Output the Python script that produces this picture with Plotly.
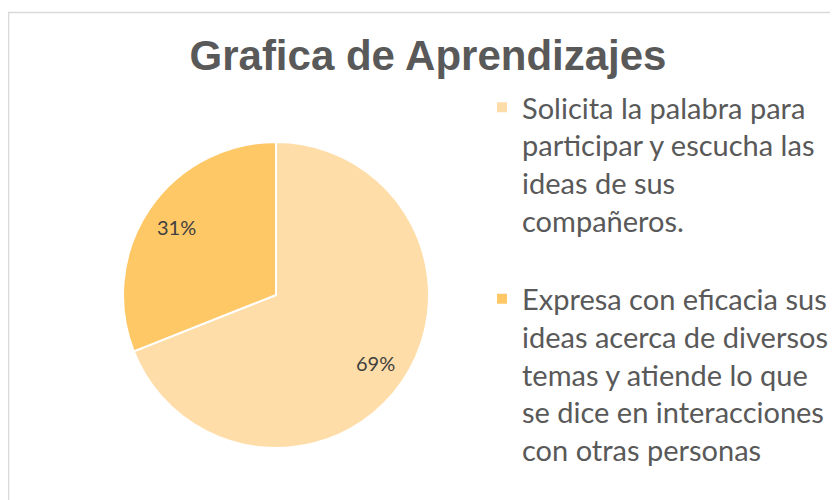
import math

import plotly.graph_objects as go

categorias = [
    "Solicita la palabra para<br>participar y escucha las<br>ideas de sus<br>compañeros.<br> ",
    "Expresa con eficacia sus<br>ideas acerca de diversos<br>temas y atiende lo que<br>se dice en interacciones<br>con otras personas",
]
porcentajes = [69, 31]
colores = ["#FFDDA8", "#FFC867"]

W, H = 838, 500
OFF = 8  # the page body adds an 8px margin around the figure

# pie centre / radius in screen pixels
cx, cy, r = 276 - OFF, 295 - OFF, 153

fig = go.Figure(
    go.Pie(
        labels=categorias,
        values=porcentajes,
        sort=False,
        direction="clockwise",
        rotation=0,
        marker=dict(colors=colores, line=dict(color="white", width=2)),
        textinfo="none",
        domain=dict(x=[(cx - r) / W, (cx + r) / W], y=[(H - cy - r) / H, (H - cy + r) / H]),
        hoverinfo="label+percent",
    )
)

# percentage labels along each slice's mid-angle, like the original
total = sum(porcentajes)
start = 0.0
for v in porcentajes:
    mid = (start + v / 2) / total * 2 * math.pi
    start += v
    lx = cx + 0.79 * r * math.sin(mid)
    ly = cy - 0.79 * r * math.cos(mid)
    fig.add_annotation(
        x=lx / W,
        y=1 - ly / H,
        xref="paper",
        yref="paper",
        xanchor="center",
        yanchor="middle",
        text=f"{round(v / total * 100)}%",
        showarrow=False,
        font=dict(family="Lato, Open Sans, sans-serif", size=20, color="#404040"),
    )

fig.update_layout(
    width=W,
    height=H,
    margin=dict(l=0, r=0, t=0, b=0),
    paper_bgcolor="white",
    title=dict(
        text="<b>Grafica de Aprendizajes</b>",
        x=(428 - OFF) / W,
        xanchor="center",
        y=1 - (55 - OFF) / H,
        yanchor="middle",
        font=dict(family="Liberation Sans, Arial, sans-serif", size=42, color="#595959"),
    ),
    legend=dict(
        x=(523 - OFF - 41) / W,
        xanchor="left",
        y=1 - (82 - OFF) / H,
        yanchor="top",
        valign="top",
        font=dict(family="Lato, Open Sans, sans-serif", size=29, color="#595959"),
        bgcolor="rgba(0,0,0,0)",
        itemclick=False,
    ),
    shapes=[
        dict(
            type="rect",
            xref="paper",
            yref="paper",
            x0=0.5 / W,
            x1=1.05,
            y0=-0.05,
            y1=1 - (12.5 - OFF) / H,
            line=dict(color="#D9D9D9", width=1.5),
            fillcolor="rgba(0,0,0,0)",
        )
    ],
)

fig.write_html("out.html")
